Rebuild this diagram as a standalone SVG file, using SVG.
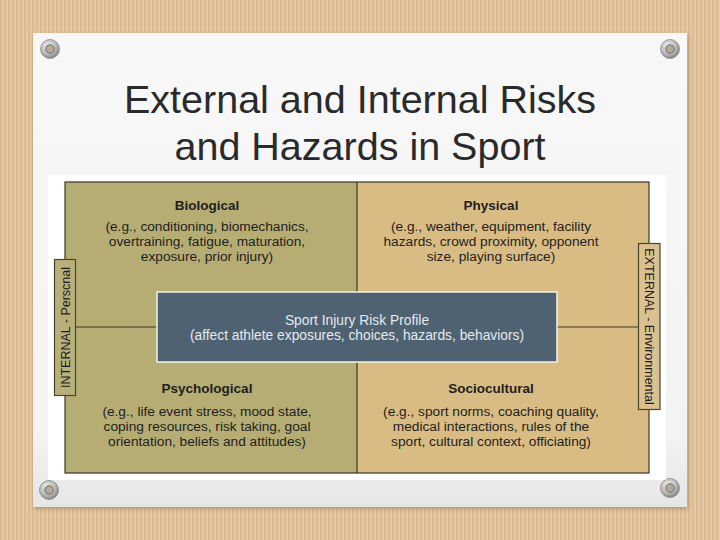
<svg xmlns="http://www.w3.org/2000/svg" width="720" height="540" viewBox="0 0 720 540">
<defs>
<pattern id="stripes" x="0" y="0" width="4" height="8" patternUnits="userSpaceOnUse">
<rect width="4" height="8" fill="#e7c9a3"/>
<rect x="0" width="1.6" height="8" fill="#d9b890"/>
</pattern>
<linearGradient id="card" x1="0" y1="0" x2="0" y2="1">
<stop offset="0" stop-color="#f8f8f8"/>
<stop offset="0.85" stop-color="#f3f3f3"/>
<stop offset="1" stop-color="#e6e6e6"/>
</linearGradient>
<radialGradient id="grom" cx="0.4" cy="0.35" r="0.7">
<stop offset="0" stop-color="#f2f2f2"/>
<stop offset="0.6" stop-color="#b8b8b8"/>
<stop offset="1" stop-color="#7d7d7d"/>
</radialGradient>
<filter id="shadow" x="-5%" y="-5%" width="110%" height="115%">
<feDropShadow dx="1" dy="2" stdDeviation="2" flood-color="#7a6040" flood-opacity="0.45"/>
</filter>
<g id="grommet">
<circle r="9.5" fill="url(#grom)" stroke="#8a8a8a" stroke-width="0.8"/>
<circle r="4.2" fill="#b7a897" stroke="#6e6e6e" stroke-width="1"/>
</g>
</defs>
<style>
.title{font-family:"Liberation Sans",Arial,sans-serif;font-size:39.5px;fill:#2a2a2a;text-anchor:middle}
.head{font-family:"Liberation Sans",Arial,sans-serif;font-size:13.5px;font-weight:bold;fill:#1e1e1e;text-anchor:middle}
.body{font-family:"Liberation Sans",Arial,sans-serif;font-size:13.7px;fill:#1e1e1e;text-anchor:middle}
.ctr{font-family:"Liberation Sans",Arial,sans-serif;font-size:13.8px;fill:#e4eaee;text-anchor:middle}
.tab{font-family:"Liberation Sans",Arial,sans-serif;font-size:12.5px;fill:#1e1e1e;text-anchor:middle}
.edge{stroke:#3b3626;stroke-width:1.2;fill:none}
</style>
<rect width="720" height="540" fill="url(#stripes)"/>
<rect x="33" y="33" width="654" height="474" fill="url(#card)" filter="url(#shadow)"/>
<use href="#grommet" x="50" y="49"/>
<use href="#grommet" x="670" y="49"/>
<use href="#grommet" x="49" y="490"/>
<use href="#grommet" x="670" y="488"/>
<text class="title" x="360" y="113">External and Internal Risks</text>
<text class="title" x="360" y="160">and Hazards in Sport</text>
<rect x="48" y="175" width="618" height="305" fill="#ffffff"/>
<g id="biological">
<rect x="65" y="182" width="292" height="291" fill="#b6ad74"/>
<text class="head" x="207" y="210">Biological</text>
<text class="body" x="207" y="231">(e.g., conditioning, biomechanics,</text>
<text class="body" x="207" y="246">overtraining, fatigue, maturation,</text>
<text class="body" x="207" y="261">exposure, prior injury)</text>
</g>
<g id="physical">
<rect x="357" y="182" width="292" height="145" fill="#d9bc83"/>
<text class="head" x="491" y="210">Physical</text>
<text class="body" x="491" y="231">(e.g., weather, equipment, facility</text>
<text class="body" x="491" y="246">hazards, crowd proximity, opponent</text>
<text class="body" x="491" y="261">size, playing surface)</text>
</g>
<g id="psychological">
<text class="head" x="207" y="393">Psychological</text>
<text class="body" x="207" y="416">(e.g., life event stress, mood state,</text>
<text class="body" x="207" y="431">coping resources, risk taking, goal</text>
<text class="body" x="207" y="446">orientation, beliefs and attitudes)</text>
</g>
<g id="sociocultural">
<rect x="357" y="327" width="292" height="146" fill="#d9bc83"/>
<text class="head" x="491" y="393">Sociocultural</text>
<text class="body" x="491" y="416">(e.g., sport norms, coaching quality,</text>
<text class="body" x="491" y="431">medical interactions, rules of the</text>
<text class="body" x="491" y="446">sport, cultural context, officiating)</text>
</g>
<g id="frame">
<rect x="65" y="182" width="584" height="291" class="edge" stroke-width="1.5"/>
<line x1="357" y1="182" x2="357" y2="473" class="edge" stroke-width="1.5"/>
</g>
<g id="connectors">
<line x1="76" y1="327" x2="157" y2="327" class="edge"/>
<line x1="557" y1="327" x2="638" y2="327" class="edge"/>
</g>
<g id="profile">
<rect x="157" y="292" width="400" height="70" fill="#4f6271" stroke="#f4f2e6" stroke-width="1.5"/>
<text class="ctr" x="357" y="325">Sport Injury Risk Profile</text>
<text class="ctr" x="357" y="340">(affect athlete exposures, choices, hazards, behaviors)</text>
</g>
<g id="internal">
<rect x="54.5" y="259.5" width="21" height="136" fill="#b8b07b" stroke="#4a4530" stroke-width="1.2"/>
<text class="tab" transform="translate(69.5 327.5) rotate(-90)">INTERNAL - Perscnal</text>
</g>
<g id="external">
<rect x="638.5" y="243.5" width="21.5" height="166" fill="#dcc190" stroke="#4a4530" stroke-width="1.2"/>
<text class="tab" transform="translate(644.5 326.5) rotate(90)">EXTERNAL - Environmental</text>
</g>
</svg>
